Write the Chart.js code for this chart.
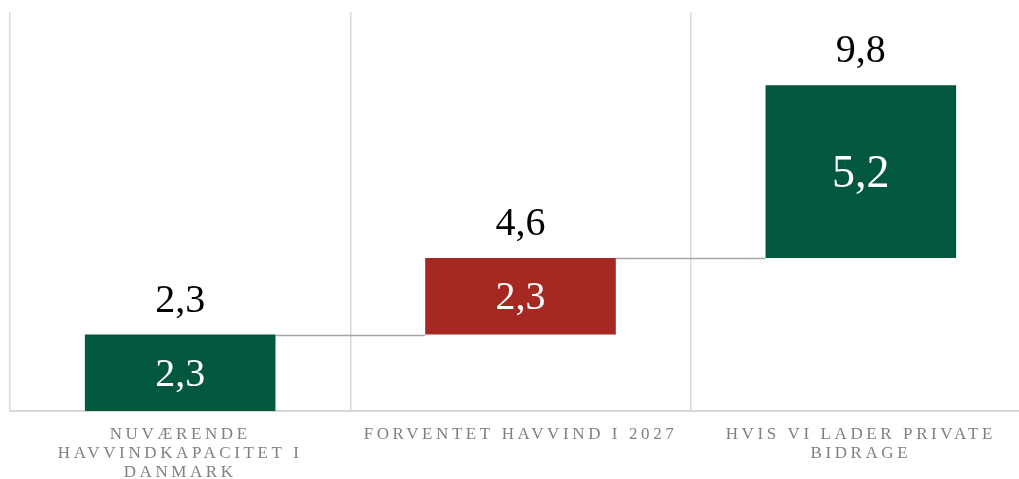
<!DOCTYPE html>
<html lang="da">
<head>
    <meta charset="UTF-8">
    <title>Havvind</title>
    <script src="https://cdn.jsdelivr.net/npm/chart.js"></script>
</head>
<body style="margin: 0; overflow: hidden; background: #fff;">
    <div style="position: relative; width: 1041px; height: 479px;">
        <canvas id="windChart"></canvas>
    </div>
    <script>
        const categories = [
            ['NUVÆRENDE', 'HAVVINDKAPACITET I', 'DANMARK'],
            'FORVENTET HAVVIND I 2027',
            ['HVIS VI LADER PRIVATE', 'BIDRAGE']
        ];
        const increments = [2.3, 2.3, 5.2];
        const totals = [2.3, 4.6, 9.8];
        const barColors = ['#02573f', '#a52822', '#02573f'];

        const fmt = v => v.toFixed(1).replace('.', ',');

        // spacing for the axis labels, switched off again before the bar labels
        const spacing = {
            id: 'spacing',
            beforeDraw(chart) { chart.ctx.letterSpacing = '3.6px'; },
            afterDatasetsDraw(chart) { chart.ctx.letterSpacing = '0px'; }
        };

        const connectors = {
            id: 'connectors',
            beforeDatasetsDraw(chart) {
                const ctx = chart.ctx;
                const bars = chart.getDatasetMeta(0).data;
                const y = chart.scales.y;
                ctx.save();
                ctx.strokeStyle = '#a6a6a6';
                ctx.lineWidth = 1.5;
                for (let i = 0; i < bars.length - 1; i++) {
                    const py = Math.round(y.getPixelForValue(totals[i])) + 0.5;
                    ctx.beginPath();
                    ctx.moveTo(bars[i].x + bars[i].width / 2, py);
                    ctx.lineTo(bars[i + 1].x - bars[i + 1].width / 2, py);
                    ctx.stroke();
                }
                ctx.restore();
            }
        };

        const valueLabels = {
            id: 'valueLabels',
            afterDatasetsDraw(chart) {
                const ctx = chart.ctx;
                const bars = chart.getDatasetMeta(0).data;
                ctx.save();
                ctx.textAlign = 'center';
                ctx.textBaseline = 'alphabetic';
                bars.forEach((bar, i) => {
                    const top = Math.min(bar.y, bar.base);
                    const mid = (bar.y + bar.base) / 2;
                    const inner = i === 2 ? 46 : 40;
                    ctx.fillStyle = '#ffffff';
                    ctx.font = inner + 'px "Liberation Serif", serif';
                    ctx.fillText(fmt(increments[i]), bar.x, mid + inner * 0.33);
                    ctx.fillStyle = '#000000';
                    ctx.font = '40px "Liberation Serif", serif';
                    ctx.fillText(fmt(totals[i]), bar.x, top - 23);
                });
                ctx.restore();
            }
        };

        new Chart(document.getElementById('windChart'), {
            type: 'bar',
            data: {
                labels: categories,
                datasets: [{
                    data: totals.map((t, i) => [+(t - increments[i]).toFixed(1), t]),
                    backgroundColor: barColors,
                    borderWidth: 0,
                    borderSkipped: false,
                    barPercentage: 0.56,
                    categoryPercentage: 1
                }]
            },
            options: {
                responsive: true,
                maintainAspectRatio: false,
                animation: false,
                layout: { padding: { top: 12, left: 10, right: 10, bottom: 0 } },
                plugins: {
                    legend: { display: false },
                    tooltip: { enabled: false }
                },
                scales: {
                    x: {
                        grid: {
                            offset: true,
                            drawTicks: false,
                            color: '#d9d9d9',
                            lineWidth: 1.5
                        },
                        border: { color: '#d9d9d9', width: 2 },
                        ticks: {
                            color: '#808080',
                            padding: 14,
                            maxRotation: 0,
                            autoSkip: false,
                            font: { family: '"Liberation Serif", serif', size: 17, lineHeight: 1.13 }
                        },
                        afterFit(scale) { scale.height = 68; }
                    },
                    y: {
                        display: false,
                        min: 0,
                        max: 12
                    }
                }
            },
            plugins: [spacing, connectors, valueLabels]
        });
    </script>
</body>
</html>
